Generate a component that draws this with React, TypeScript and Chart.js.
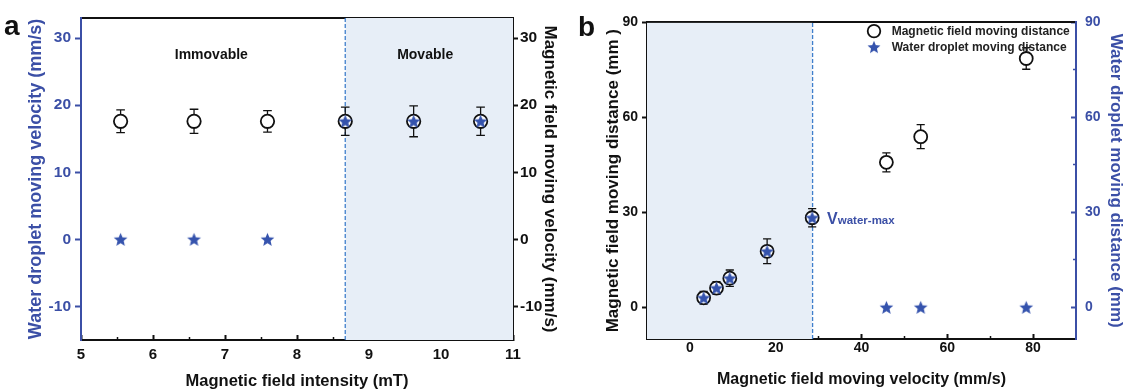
import React, { useEffect, useRef } from 'react';
import { Chart, registerables } from 'chart.js';

Chart.register(...registerables);

const FONT = "'Liberation Sans', Arial, sans-serif";
const BLUE = '#3b4fa6';
const STAR_BLUE = '#3553ad';
const DASH_BLUE = '#3f7fcc';
const SHADE = '#e7eef7';
const INK = '#111111';

// ---------- Panel a ----------
const aIntensity = [5.55, 6.57, 7.59, 8.67, 9.62, 10.55];
const aFieldVelocity = [17.6, 17.6, 17.6, 17.6, 17.6, 17.6];
const aFieldVelocityErr = [1.7, 1.8, 1.6, 2.1, 2.3, 2.1];
const aWaterVelocity = [0, 0, 0, 17.6, 17.6, 17.6];
const aXTicks = [5, 6, 7, 8, 9, 10, 11];
const aXMinorTicks = [5.5, 6.5, 7.5, 8.5, 9.5, 10.5];
const aYTicks = [-10, 0, 10, 20, 30];
const aXRange = [5, 11];
const aYRange = [-15, 33];
const aThreshold = [8.67];
const aRegionLabels = ['Immovable', 'Movable'];
const aRegionLabelX = [6.81, 9.78];
const aRegionLabelY = [27.5, 27.5];

// ---------- Panel b ----------
const bVelocity = [3.2, 6.2, 9.3, 18.0, 28.5, 45.8, 53.8, 78.4];
const bFieldDistance = [3.0, 6.1, 9.2, 17.7, 28.3, 45.8, 53.9, 78.6];
const bFieldDistanceErr = [2.0, 2.0, 2.6, 3.9, 2.9, 3.0, 3.8, 3.4];
const bWaterDistance = [3.0, 6.1, 9.2, 17.7, 28.3, 0, 0, 0];
const bXTicks = [0, 20, 40, 60, 80];
const bXMinorTicks = [10, 30, 50, 70];
const bYTicks = [0, 30, 60, 90];
const bYMinorTicks = [15, 45, 75];
const bXRange = [-10, 90];
const bYRange = [-10, 90];
const bThreshold = [28.6];
const bLegendLabels = ['Magnetic field moving distance', 'Water droplet moving distance'];

// ---------- helpers ----------
const font = (size: number, lineHeight = 1.2) => ({ family: FONT, size, weight: 'bold' as const, lineHeight });
const fixWidth = (w: number) => (s: any) => { s.width = w; };
const fixHeight = (h: number) => (s: any) => { s.height = h; };
const setTicks = (vals: number[]) => (s: any) => { s.ticks = vals.map((value) => ({ value })); };

function mainAxis(o: any) {
  const horizontal = o.position === 'bottom' || o.position === 'top';
  return {
    type: 'linear',
    axis: horizontal ? 'x' : 'y',
    position: o.position,
    min: o.range[0],
    max: o.range[1],
    afterBuildTicks: setTicks(o.ticks),
    afterFit: horizontal ? fixHeight(o.size) : fixWidth(o.size),
    grid: { drawOnChartArea: false, drawTicks: true, tickLength: o.tickLength, tickWidth: 2, tickColor: o.color },
    border: { display: true, color: o.color, width: 2 },
    ticks: { color: o.color, font: o.tickFont, padding: o.tickPadding, autoSkip: false, maxRotation: 0 },
    title: { display: true, text: o.title, color: o.color, font: o.titleFont, padding: o.titlePadding },
  };
}

function minorAxis(position: string, range: number[], ticks: number[], color: string, tickLength: number) {
  const horizontal = position === 'bottom' || position === 'top';
  return {
    type: 'linear',
    axis: horizontal ? 'x' : 'y',
    position,
    weight: -1,
    min: range[0],
    max: range[1],
    afterBuildTicks: setTicks(ticks),
    afterFit: horizontal ? fixHeight(0) : fixWidth(0),
    grid: { drawOnChartArea: false, drawTicks: true, tickLength, tickWidth: 1.5, tickColor: color },
    border: { display: false },
    ticks: { display: false },
  };
}

function topBorderAxis(range: number[]) {
  return {
    type: 'linear',
    axis: 'x',
    position: 'top',
    min: range[0],
    max: range[1],
    afterFit: fixHeight(0),
    grid: { display: false, drawTicks: false },
    border: { display: true, color: INK, width: 2 },
    ticks: { display: false },
  };
}

function errorBarPoints(xs: number[], ys: number[], errs: number[], capHalf: number) {
  const pts: any[] = [];
  xs.forEach((x, i) => {
    const lo = ys[i] - errs[i];
    const hi = ys[i] + errs[i];
    pts.push({ x, y: lo }, { x, y: hi }, { x, y: null });
    pts.push({ x: x - capHalf, y: hi }, { x: x + capHalf, y: hi }, { x, y: null });
    pts.push({ x: x - capHalf, y: lo }, { x: x + capHalf, y: lo }, { x, y: null });
  });
  return pts;
}

function makeStar(r: number, color: string) {
  const size = Math.ceil(r * 2) + 2;
  const c = document.createElement('canvas');
  c.width = size;
  c.height = size;
  const ctx = c.getContext('2d')!;
  ctx.fillStyle = color;
  ctx.beginPath();
  for (let i = 0; i < 10; i++) {
    const rad = i % 2 === 0 ? r : r * 0.45;
    const a = -Math.PI / 2 + (i * Math.PI) / 5;
    const px = size / 2 + rad * Math.cos(a);
    const py = size / 2 + rad * Math.sin(a) + r * 0.08;
    if (i === 0) ctx.moveTo(px, py);
    else ctx.lineTo(px, py);
  }
  ctx.closePath();
  ctx.fill();
  return c;
}

const pts = (xs: number[], ys: number[]) => xs.map((x, i) => ({ x, y: ys[i] }));

// ---------- chart configs ----------
function configA(star: HTMLCanvasElement) {
  const overlay = {
    id: 'aOverlay',
    afterDraw(chart: any) {
      const { ctx, scales } = chart;
      ctx.save();
      ctx.fillStyle = INK;
      ctx.font = `bold 14px ${FONT}`;
      ctx.textAlign = 'center';
      ctx.textBaseline = 'middle';
      aRegionLabels.forEach((t, i) => {
        ctx.fillText(t, scales.x.getPixelForValue(aRegionLabelX[i]), scales.y.getPixelForValue(aRegionLabelY[i]));
      });
      ctx.font = `bold 28px ${FONT}`;
      ctx.textAlign = 'left';
      ctx.textBaseline = 'alphabetic';
      ctx.fillText('a', 4, 35);
      ctx.restore();
    },
  };
  return {
    type: 'scatter',
    data: {
      datasets: [
        {
          type: 'line',
          data: [{ x: aThreshold[0], y: aYRange[1] }, { x: aXRange[1], y: aYRange[1] }],
          fill: 'start',
          backgroundColor: SHADE,
          borderWidth: 0,
          pointRadius: 0,
          order: 10,
        },
        {
          type: 'line',
          data: [{ x: aThreshold[0], y: aYRange[0] }, { x: aThreshold[0], y: aYRange[1] }],
          borderColor: DASH_BLUE,
          borderDash: [4, 2],
          borderWidth: 1.3,
          pointRadius: 0,
          fill: false,
          order: 9,
        },
        {
          type: 'line',
          yAxisID: 'y2',
          data: errorBarPoints(aIntensity, aFieldVelocity, aFieldVelocityErr, 0.06),
          borderColor: INK,
          borderWidth: 1.3,
          pointRadius: 0,
          fill: false,
          spanGaps: false,
          order: 5,
        },
        {
          yAxisID: 'y2',
          data: pts(aIntensity, aFieldVelocity),
          pointStyle: 'circle',
          pointRadius: 6.7,
          pointBorderWidth: 1.8,
          borderColor: INK,
          backgroundColor: '#ffffff',
          order: 2,
        },
        {
          yAxisID: 'y',
          data: pts(aIntensity, aWaterVelocity),
          pointStyle: star,
          pointRadius: 7,
          order: 1,
        },
      ],
    },
    options: {
      responsive: false,
      animation: false,
      devicePixelRatio: 1,
      layout: { padding: { top: 18, left: 0, right: 0, bottom: 0 } },
      plugins: { legend: { display: false }, tooltip: { enabled: false } },
      scales: {
        x: mainAxis({
          position: 'bottom', range: aXRange, ticks: aXTicks, size: 50, color: INK,
          tickLength: -5, tickPadding: 10.5, tickFont: font(15),
          title: 'Magnetic field intensity (mT)', titleFont: font(16.5, 1), titlePadding: { top: 0, bottom: 0 },
        }),
        xMinor: minorAxis('bottom', aXRange, aXMinorTicks, INK, -3),
        xTop: topBorderAxis(aXRange),
        y: mainAxis({
          position: 'left', range: aYRange, ticks: aYTicks, size: 81, color: BLUE,
          tickLength: 6, tickPadding: 4, tickFont: font(15.5),
          title: 'Water droplet moving velocity (mm/s)', titleFont: font(18), titlePadding: { top: 25.2, bottom: 0 },
        }),
        y2: mainAxis({
          position: 'right', range: aYRange, ticks: aYTicks, size: 59, color: INK,
          tickLength: 5, tickPadding: 2, tickFont: font(15.5),
          title: 'Magnetic field moving velocity (mm/s)', titleFont: font(17), titlePadding: { top: 11.8, bottom: 0 },
        }),
      },
    },
    plugins: [overlay],
  };
}

function configB(star: HTMLCanvasElement, legendStar: HTMLCanvasElement) {
  const overlay = {
    id: 'bOverlay',
    afterDraw(chart: any) {
      const { ctx, scales, chartArea } = chart;
      ctx.save();
      // threshold label
      const px = scales.x.getPixelForValue(bThreshold[0]);
      const py = scales.y.getPixelForValue(bFieldDistance[4]);
      ctx.fillStyle = BLUE;
      ctx.textAlign = 'left';
      ctx.textBaseline = 'alphabetic';
      ctx.font = `bold 16px ${FONT}`;
      const vx = px + 14.5;
      const by = py + 6;
      ctx.fillText('V', vx, by);
      const vw = ctx.measureText('V').width;
      ctx.font = `bold 11.5px ${FONT}`;
      ctx.fillText('water-max', vx + vw, by);
      // legend
      const lx = chartArea.right - 202;
      const rows = [chartArea.top + 8.7, chartArea.top + 24.7];
      ctx.strokeStyle = INK;
      ctx.lineWidth = 1.8;
      ctx.beginPath();
      ctx.arc(lx, rows[0], 6.3, 0, Math.PI * 2);
      ctx.stroke();
      ctx.drawImage(legendStar, lx - legendStar.width / 2, rows[1] - legendStar.height / 2);
      ctx.fillStyle = '#222222';
      ctx.font = `bold 12px ${FONT}`;
      ctx.textBaseline = 'middle';
      bLegendLabels.forEach((t, i) => ctx.fillText(t, chartArea.right - 184.3, rows[i] + 0.5));
      // panel letter
      ctx.fillStyle = INK;
      ctx.font = `bold 28px ${FONT}`;
      ctx.textBaseline = 'alphabetic';
      ctx.fillText('b', 6, 36);
      ctx.restore();
    },
  };
  return {
    type: 'scatter',
    data: {
      datasets: [
        {
          type: 'line',
          data: [{ x: bXRange[0], y: bYRange[1] }, { x: bThreshold[0], y: bYRange[1] }],
          fill: 'start',
          backgroundColor: SHADE,
          borderWidth: 0,
          pointRadius: 0,
          order: 10,
        },
        {
          type: 'line',
          data: [{ x: bThreshold[0], y: bYRange[0] }, { x: bThreshold[0], y: bYRange[1] }],
          borderColor: DASH_BLUE,
          borderDash: [4, 2],
          borderWidth: 1.3,
          pointRadius: 0,
          fill: false,
          order: 9,
        },
        {
          type: 'line',
          yAxisID: 'y',
          data: errorBarPoints(bVelocity, bFieldDistance, bFieldDistanceErr, 0.95),
          borderColor: INK,
          borderWidth: 1.3,
          pointRadius: 0,
          fill: false,
          spanGaps: false,
          order: 5,
        },
        {
          yAxisID: 'y',
          data: pts(bVelocity, bFieldDistance),
          pointStyle: 'circle',
          pointRadius: 6.5,
          pointBorderWidth: 1.8,
          borderColor: INK,
          backgroundColor: '#ffffff',
          order: 2,
        },
        {
          yAxisID: 'y2',
          data: pts(bVelocity, bWaterDistance),
          pointStyle: star,
          pointRadius: 7,
          order: 1,
        },
      ],
    },
    options: {
      responsive: false,
      animation: false,
      devicePixelRatio: 1,
      layout: { padding: { top: 18, left: 0, right: 0, bottom: 0 } },
      plugins: { legend: { display: false }, tooltip: { enabled: false } },
      scales: {
        x: mainAxis({
          position: 'bottom', range: bXRange, ticks: bXTicks, size: 51, color: INK,
          tickLength: -5, tickPadding: 6, tickFont: font(14),
          title: 'Magnetic field moving velocity (mm/s)', titleFont: font(16, 1), titlePadding: { top: 0, bottom: 2 },
        }),
        xMinor: minorAxis('bottom', bXRange, bXMinorTicks, INK, -3),
        xTop: topBorderAxis(bXRange),
        y: mainAxis({
          position: 'left', range: bYRange, ticks: bYTicks, size: 75, color: INK,
          tickLength: 5, tickPadding: 4, tickFont: font(14),
          title: 'Magnetic field moving distance (mm )', titleFont: font(17), titlePadding: { top: 30.8, bottom: 0 },
        }),
        yMinor: minorAxis('left', bYRange, bYMinorTicks, INK, -3),
        y2: mainAxis({
          position: 'right', range: bYRange, ticks: bYTicks, size: 48, color: BLUE,
          tickLength: -5, tickPadding: 14, tickFont: font(14),
          title: 'Water droplet moving distance (mm)', titleFont: font(17, 1), titlePadding: { top: 0, bottom: 0 },
        }),
        y2Minor: minorAxis('right', bYRange, bYMinorTicks, BLUE, -3),
      },
    },
    plugins: [overlay],
  };
}

const LEFT_W = 572;
const RIGHT_W = 1124 - LEFT_W;

export default function App() {
  const refA = useRef<HTMLCanvasElement>(null);
  const refB = useRef<HTMLCanvasElement>(null);

  useEffect(() => {
    const star = makeStar(7.2, STAR_BLUE);
    const legendStar = makeStar(6.8, STAR_BLUE);
    const a = new Chart(refA.current as HTMLCanvasElement, configA(star) as any);
    const b = new Chart(refB.current as HTMLCanvasElement, configB(star, legendStar) as any);
    return () => {
      a.destroy();
      b.destroy();
    };
  }, []);

  return (
    <div style={{ position: 'absolute', left: 0, top: 0, width: 1124, height: 390, background: '#ffffff', overflow: 'hidden' }}>
      <canvas ref={refA} width={LEFT_W} height={390} style={{ position: 'absolute', left: 0, top: 0, width: LEFT_W, height: 390 }} />
      <canvas ref={refB} width={RIGHT_W} height={390} style={{ position: 'absolute', left: LEFT_W, top: 0, width: RIGHT_W, height: 390 }} />
    </div>
  );
}
